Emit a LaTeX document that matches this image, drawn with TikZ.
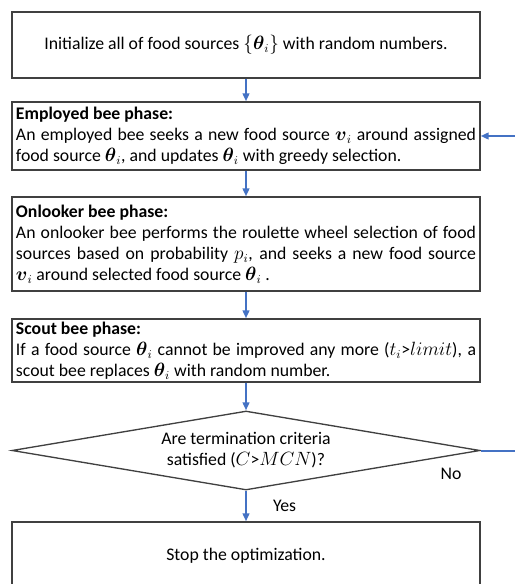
\documentclass[tikz,border=0pt]{standalone}
\usepackage{fontspec}
\setmainfont{Carlito}
\usepackage{amsmath}
\usetikzlibrary{shapes.geometric,arrows.meta,positioning}
\definecolor{flowblue}{RGB}{68,114,196}
\definecolor{boxline}{RGB}{64,64,64}

\begin{document}
\begin{tikzpicture}[x=0.75pt, y=-0.75pt, font=\fontsize{13.3}{15.8}\selectfont]
  \useasboundingbox (0,0) rectangle (514,584);

  \tikzstyle{box}=[draw=boxline, line width=1pt, minimum width=351pt, inner xsep=3pt, inner ysep=0pt]
  \tikzstyle{phase}=[box, text width=345pt, align=justify]
  \tikzstyle{flow}=[draw=flowblue, line width=1.5pt, -{Triangle[length=6pt, width=5pt]}]

  \node[box, minimum height=49.5pt] (init) at (246,45) {Initialize all of food sources $\{\boldsymbol{\theta}_i\}$ with random numbers.};
  \node[phase, minimum height=51pt] (employed) at (246,136) {\textbf{Employed bee phase:}\\
    An employed bee seeks a new food source $\boldsymbol{v}_i$ around assigned\linebreak
    food source $\boldsymbol{\theta}_i$, and updates $\boldsymbol{\theta}_i$ with greedy selection.};
  \node[phase, minimum height=70.5pt] (onlooker) at (246,244) {\textbf{Onlooker bee phase:}\\
    An onlooker bee performs the roulette wheel selection of food\linebreak
    sources based on probability $p_i$, and seeks a new food source\linebreak
    $\boldsymbol{v}_i$ around selected food source $\boldsymbol{\theta}_i$ .};
  \node[phase, minimum height=47.25pt] (scout) at (246,350.5) {\textbf{Scout bee phase:}\\
    If a food source $\boldsymbol{\theta}_i$ cannot be improved any more ($t_i$>$limit$), a\linebreak
    scout bee replaces $\boldsymbol{\theta}_i$ with random number.};
  \node[box, diamond, aspect=5.92, minimum height=59.25pt, align=center] (crit) at (246,450.5) {Are termination criteria\\ satisfied ($C$>$MCN$)?};
  \node[box, minimum height=51pt] (stop) at (246,556) {Stop the optimization.};

  \node[below left=12.75pt and 14.25pt of crit.east, inner sep=0pt] (no) {No};

  \path (init) edge[flow] (employed);
  \path (employed) edge[flow] (onlooker);
  \path (onlooker) edge[flow] (scout);
  \path (scout) edge[flow] (crit);
  \path (crit) edge[flow] node[right=19.5pt, inner sep=0pt] (yes) {Yes} (stop);
  \draw[flow] (crit.east) -- ++(44,0) |- (employed.east);
\end{tikzpicture}
\end{document}
